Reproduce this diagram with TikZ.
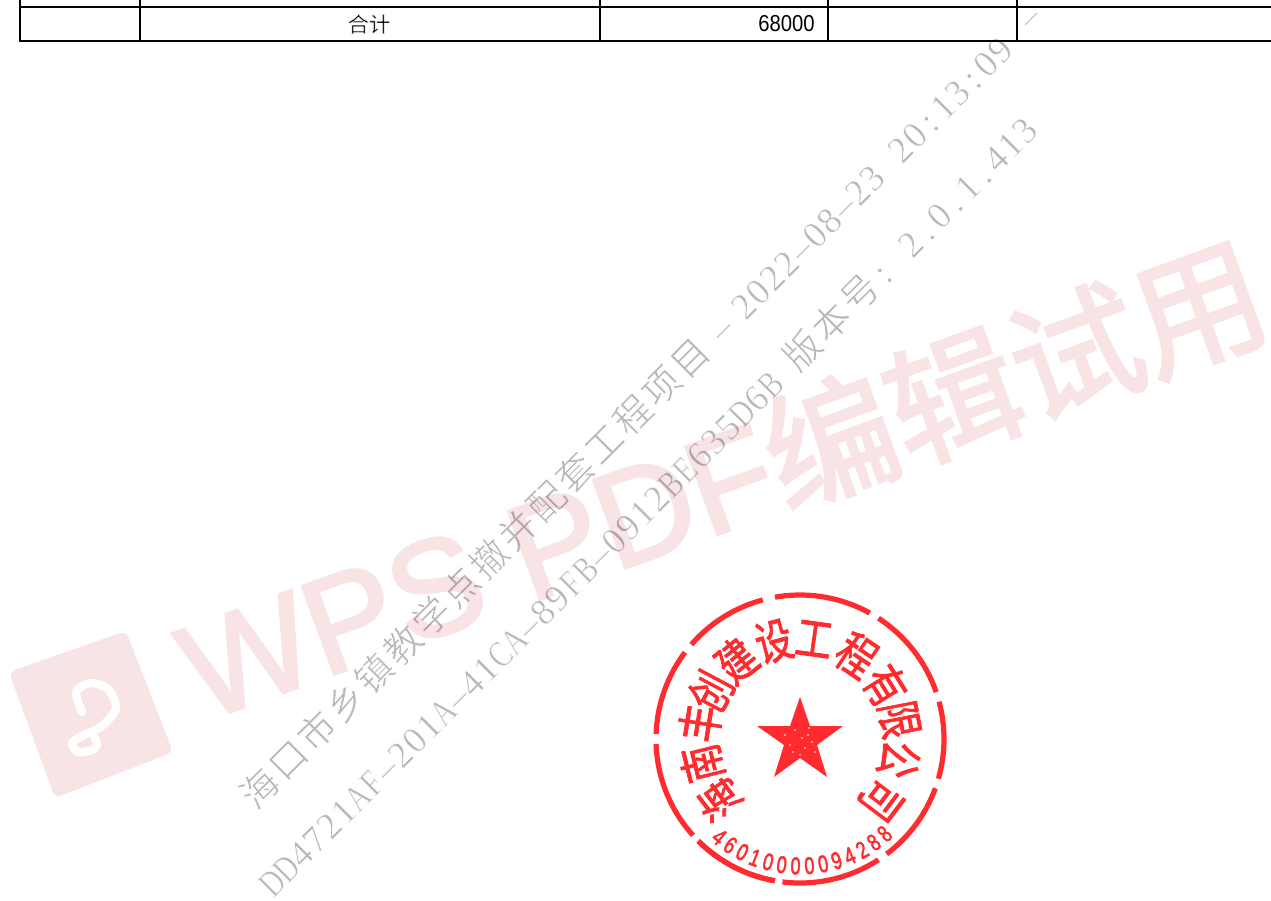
\documentclass[tikz,border=0pt]{standalone}
\usepackage{fontspec}
\usepackage{graphicx}
\setmainfont{Liberation Sans}
\newfontfamily\cjk{Noto Sans CJK SC}
\newfontfamily\serifl{Liberation Serif}
\definecolor{wm}{HTML}{F8E3E5}
\definecolor{seal}{HTML}{FF2B2F}
\definecolor{wline}{HTML}{B8B8B8}
\tikzset{
 tline/.style={draw=black,line width=1.5pt},
 tthin/.style={draw=black,line width=1.25pt},
 bigmark/.style={text=wm,inner sep=0,anchor=base west,rotate=20},
 linemark/.style={text=wline,inner sep=0,anchor=base west,rotate=45},
 sealchar/.style={text=seal,inner sep=0,font=\cjk\fontsize{30}{30}\selectfont},
 sealdigit/.style={text=seal,inner sep=0,font=\fontsize{15}{15}\selectfont},
 sealring/.style={draw=seal,line width=3.9pt},
 cell/.style={inner sep=0,font=\fontsize{16}{18}\selectfont}
}
\newcommand{\stroked}[3]{\special{pdf:code q 2 Tr #2 w #1 RG}#3\special{pdf:code Q}}
\newcommand{\thinned}[2]{\stroked{1 1 1}{#1}{#2}}
\makeatletter
\newcommand{\gridtext}[2]{\@tfor\ch:=#2\do{\makebox[#1][c]{\expandafter\ifcat\ch A\scalebox{.78}[1]{\thinned{0.4}{\ch}}\else\thinned{0.4}{\ch}\fi}}}
\newcommand{\cjkgrid}[1]{{\cjk\fontsize{28}{28}\selectfont\@tfor\ch:=#1\do{\makebox[30.45pt][c]{\thinned{0.5}{\ch}}}}}
\makeatother
\newcommand{\latgrid}[1]{{\serifl\fontsize{28}{28}\selectfont\gridtext{15.1pt}{#1}}}
\begin{document}
\begin{tikzpicture}[x=0.75pt,y=-0.75pt]
\useasboundingbox (0,0) rectangle (1271,900);
\clip (0,0) rectangle (1271,900);
\fill[white] (0,0) rectangle (1271,900);
% diagonal watermark lines
\node[linemark] (line1) at (254.5,812.5) {\cjkgrid{海口市乡镇教学点撤并配套工程项目}\kern9pt\latgrid{–}\kern9pt\latgrid{2022–08–23}\kern15.1pt\latgrid{20:13:09}};
\node[linemark] (line2) at (273.5,898.5) {\latgrid{DD4721AF–201A–41CA–89FB–0912BE635D6B}\kern12pt\cjkgrid{版本号}\latgrid{:}\kern15.1pt\latgrid{2.0.1.413}};
% big trial mark
\begin{scope}[transparency group,blend mode=multiply]
\fill[wm,rounded corners=5pt] (9,672) -- (126,631) -- (173,752) -- (55,798) -- cycle;
\node[bigmark,font=\fontsize{102}{102}\selectfont] (bigtext) at (203,722) {\stroked{.973 .89 .898}{2.2}{WPS PDF{\cjk\fontsize{98}{98}\selectfont 编辑试用}}};
\end{scope}
\draw[white,line width=6.2pt,line cap=round,line join=round] plot[smooth] coordinates {(82,712) (76,692) (90,683) (108,689) (116,708) (102,726) (82,736) (72,743) (78,752) (92,750) (97,745) (95,738)};
% table
\draw[tline] (20,7) -- (1271,7);
\draw[tline] (19,41) -- (1271,41);
\draw[tline,line width=1.9pt] (20,0) -- (20,41);
\foreach \x in {140,600,828,1017}{\draw[tthin] (\x,0) -- (\x,41);}
\node[cell,font=\cjk\fontsize{16}{18}\selectfont] (total) at (369,24) {\thinned{0.25}{合计}};
\node[cell,anchor=east] (sum) at (815,24) {\scalebox{.95}[1.08]{68000}};
\coordinate (slashA) at (1025,25);
\coordinate (slashB) at (1037,13);
\draw[wline,line width=0.55pt] (slashA) -- (slashB);
% seal
\fill[seal] (800,697) -- (810,726) -- (843,726) -- (817,745) -- (827,777) -- (800,758) -- (774,777) -- (784,745) -- (757,726) -- (790,726) -- cycle;
\foreach \p/\q in {795/730,808/735,790/745,805/748,800/755,812/742,785/735,797/762,815/752,802/738,793/752,809/728}{\fill[white] (\p,\q) circle (0.9);}
\begin{scope}[shift={(800,739)},x=0.75pt,y=0.75pt]
\foreach \s/\e in {-16/15,19/57,61/100,105/139,143/178,182/222,226/259,-135/-100,-97/-57,-53/-20}{
  \draw[sealring] (\s:144) arc[start angle=\s,end angle=\e,radius=144];
}
\foreach \c/\a [count=\i] in {海/217,南/194,丰/171,创/152,建/129,设/105,工/82,程/56,有/32,限/11,公/-12,司/-37}{
  \node[sealchar,rotate=\a-90] (sc\i) at (\a:101) {\stroked{1 .169 .184}{0.5}{\scalebox{.92}[1.18]{\c}}};
}
\foreach \d [count=\i] in {4,6,0,1,0,0,0,0,0,9,4,2,8,8}{
  \pgfmathsetmacro{\ang}{230.5+(\i-1)*6.25}
  \node[sealdigit,rotate=\ang+90] (sd\i) at (\ang:127) {\stroked{1 .169 .184}{0.35}{\scalebox{.9}[1.2]{\d}}};
}
\end{scope}
\end{tikzpicture}
\end{document}
